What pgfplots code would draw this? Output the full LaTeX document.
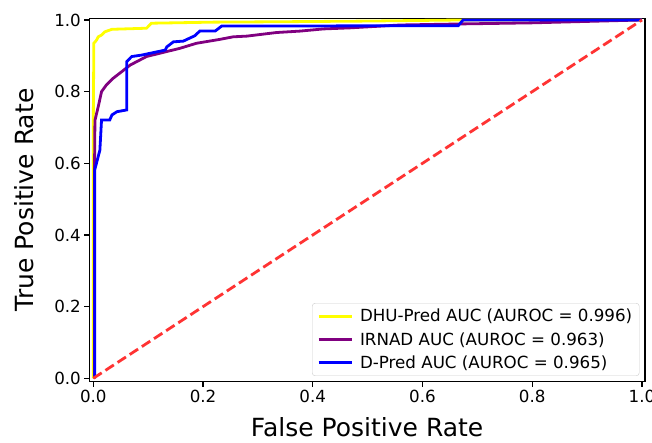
\documentclass[border=0pt]{standalone}
\usepackage{pgfplots}
\pgfplotsset{compat=1.18}
\usepackage{fontspec}
\setmainfont{DejaVu Sans}
\definecolor{dhu}{RGB}{255,255,0}
\definecolor{irnad}{RGB}{128,0,128}
\definecolor{dpred}{RGB}{0,0,255}
\definecolor{chance}{RGB}{255,51,51}
\begin{document}
\begin{tikzpicture}
\begin{axis}[
    scale only axis,
    width=555.7pt, height=363.4pt,
    xmin=-0.0073, xmax=1.0055, ymin=-0.0095, ymax=1.0047,
    xtick={0,0.2,0.4,0.6,0.8,1}, ytick={0,0.2,0.4,0.6,0.8,1},
    /pgf/number format/assume math mode=true,
    /pgf/number format/.cd, fixed, fixed zerofill, precision=1, /pgfplots/.cd,
    tick label style={font=\fontsize{16.7}{20}\selectfont},
    tick align=outside, tick pos=left,
    major tick length=4.9pt,
    every tick/.style={black, line width=1.1pt},
    axis line style={line width=1.1pt},
    xlabel={False Positive Rate}, ylabel={True Positive Rate},
    label style={font=\fontsize{25}{30}\selectfont},
    xlabel style={at={(axis description cs:0.5,-0.125)}, anchor=center},
    ylabel style={at={(axis description cs:-0.1165,0.5)}, anchor=center},
    legend style={at={(axis description cs:0.990,0.0157)}, anchor=south east,
        draw=black!20, rounded corners=3pt, fill=white, fill opacity=0.8, text opacity=1,
        font=\fontsize{16.7}{20}\selectfont, inner xsep=5pt, inner ysep=4pt, row sep=5pt},
    legend cell align=left,
    legend image code/.code={\draw[#1, line width=2.8pt] (0pt,0pt) -- (33pt,0pt);
        \path (38pt,0pt);},
]
\addplot[dhu, line width=2.8pt] coordinates {
    (0,0) (0,0.72) (0.001,0.935) (0.006,0.944) (0.009,0.953) (0.015,0.958)
    (0.021,0.967) (0.034,0.974) (0.097,0.977) (0.106,0.991) (0.22,0.994)
    (0.334,0.995) (0.5,0.997) (0.67,1.0) (1,1)
};
\addlegendentry{DHU-Pred AUC (AUROC = 0.996)}
\addplot[irnad, line width=2.8pt] coordinates {
    (0.002,0) (0.002,0.55) (0.003,0.72) (0.009,0.758) (0.015,0.80)
    (0.024,0.819) (0.036,0.837) (0.052,0.856) (0.067,0.874) (0.097,0.898)
    (0.134,0.912) (0.158,0.921) (0.188,0.935) (0.231,0.946) (0.255,0.953)
    (0.28,0.955) (0.334,0.965) (0.377,0.969) (0.419,0.975) (0.468,0.978)
    (0.559,0.986) (0.671,0.989) (0.8,0.992) (1,1)
};
\addlegendentry{IRNAD AUC (AUROC = 0.963)}
\addplot[dpred, line width=2.8pt] coordinates {
    (0.0025,0) (0.0025,0.581) (0.012,0.637) (0.015,0.721) (0.030,0.721)
    (0.034,0.735) (0.043,0.744) (0.061,0.749) (0.061,0.884) (0.07,0.898)
    (0.088,0.902) (0.131,0.916) (0.134,0.925) (0.146,0.939) (0.164,0.941)
    (0.185,0.956) (0.194,0.969) (0.222,0.969) (0.234,0.983) (0.665,0.984)
    (0.674,1.0) (1,1)
};
\addlegendentry{D-Pred AUC (AUROC = 0.965)}
\addplot[chance, line width=2.8pt, dash pattern=on 10pt off 4.5pt, forget plot] coordinates {
    (0,0) (1,1)
};
\end{axis}
\pgfresetboundingbox
\path[use as bounding box] ([xshift=-89.3pt,yshift=-60.3pt]current axis.south west)
    rectangle ([xshift=7pt,yshift=18.3pt]current axis.north east);
\end{tikzpicture}
\end{document}
